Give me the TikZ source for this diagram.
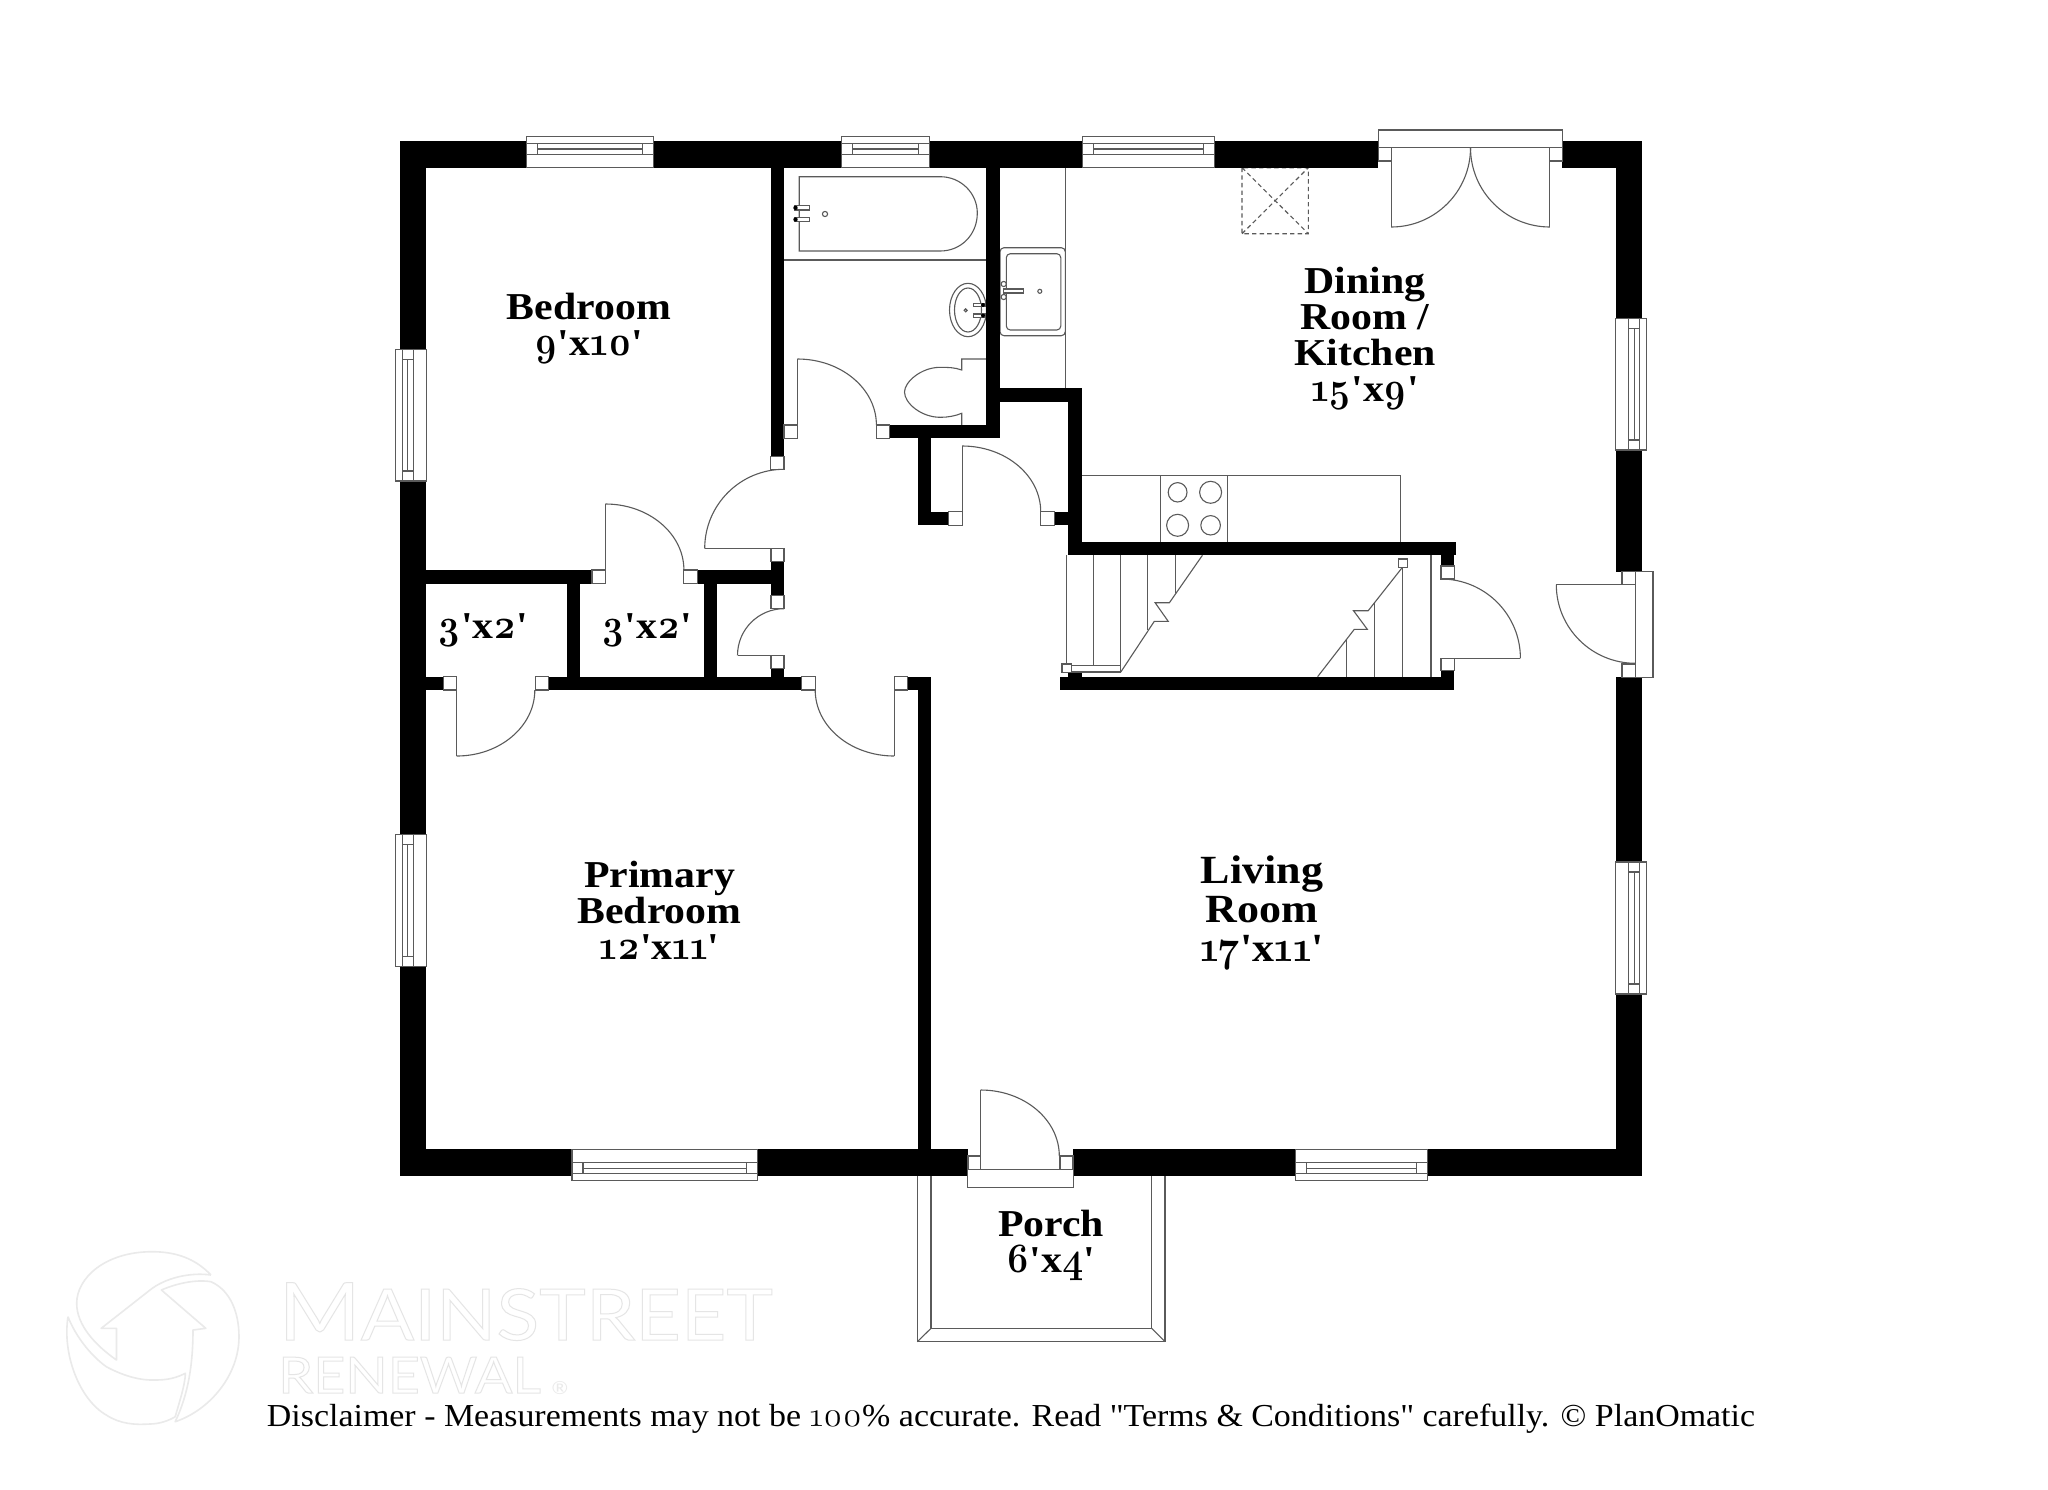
\documentclass[tikz,border=0pt]{standalone}
\usepackage{fontspec}
\newfontfamily\plan{Liberation Serif}[FakeStretch=1.1]
\newfontfamily\digs{Latin Modern Roman}[Numbers=OldStyle,FakeStretch=0.88]
\newfontfamily\digr{Latin Modern Roman}[Numbers=OldStyle,FakeStretch=1.1]
\newfontfamily\discl{Liberation Serif}[FakeStretch=1.06]
\newfontfamily\logofont{Lato}[FakeStretch=1.11]
\newcommand\dg[1]{{\digs\bfseries\fontsize{21}{18}\selectfont #1}}
\newcommand\dgb[1]{{\digs\bfseries\fontsize{22}{19}\selectfont #1}}
\definecolor{ln}{HTML}{5A5A5A}
\definecolor{wm}{HTML}{EAEAEA}
\tikzset{
  thinl/.style={draw=ln,line width=0.55pt},
  boxw/.style={thinl,fill=white},
  lbl/.style={align=center,inner sep=0pt,text=black},
  roomlbl/.style={lbl,font=\plan\bfseries\fontsize{19}{18}\selectfont},
  biglbl/.style={lbl,font=\plan\bfseries\fontsize{20}{19.5}\selectfont},
  wmline/.style={draw=wm,line width=0.8pt,line join=round}
}
\newcommand\wl[4]{\fill[black] (#1,#2) rectangle (#3,#4);}
\newcommand\jb[4]{\path[boxw] (#1,#2) rectangle (#3,#4);}
\newcommand\dq[4]{\pgfmathsetmacro\cxa{#1+0.552*(#3-#1)}\pgfmathsetmacro\cyb{#4+0.552*(#2-#4)}\draw[thinl] (#1,#2) .. controls (\cxa,#2) and (#3,\cyb) .. (#3,#4);}
\newcommand\winH[7]{\path[boxw] (#1,#3) rectangle (#2,#4);
  \draw[thinl] (#1,#5) -- (#2,#5) (#1,#7) -- (#2,#7);
  \pgfmathsetmacro\ia{#1+11}\pgfmathsetmacro\ib{#2-11}
  \draw[thinl] (\ia,#5) -- (\ia,#7) (\ib,#5) -- (\ib,#7) (\ia,#6) -- (\ib,#6);}
\newcommand\winV[7]{\path[boxw] (#3,#1) rectangle (#4,#2);
  \draw[thinl] (#5,#1) -- (#5,#2) (#7,#1) -- (#7,#2);
  \pgfmathsetmacro\ia{#1+10}\pgfmathsetmacro\ib{#2-10}
  \draw[thinl] (#5,\ia) -- (#7,\ia) (#5,\ib) -- (#7,\ib) (#6,\ia) -- (#6,\ib);}
\begin{document}
\begin{tikzpicture}[x=0.5pt,y=-0.5pt]
\useasboundingbox (0,0) rectangle (2048,1489);
\fill[white] (0,0) rectangle (2048,1489);

% watermark
\node[inner sep=0pt,anchor=base west,text=wm] (wmain) at (278,1340) {\logofont\special{pdf:code 1 Tr 0.5 w 0.9 0.9 0.9 RG}\fontsize{40}{40}\selectfont M\fontsize{35.5}{40}\selectfont AINSTREET\special{pdf:code 0 Tr}};
\node[inner sep=0pt,anchor=base west,text=wm] (wren) at (278,1393) {\logofont\special{pdf:code 1 Tr 0.5 w 0.9 0.9 0.9 RG}\fontsize{25}{25}\selectfont RENEWAL\special{pdf:code 0 Tr}};
\node[inner sep=0pt,text=wm] (wreg) at (560,1388) {\logofont\fontsize{9}{9}\selectfont ®};
\draw[wmline] (210.9,1275) .. controls (195,1258) and (175,1251.7) .. (152.2,1251.7) .. controls (105,1251.7) and (76.7,1278) .. (76.7,1303.3) .. controls (76.7,1325) and (95,1345) .. (116.5,1360) -- (116.5,1328.3) -- (101.2,1328.3) -- (150,1290) .. controls (165,1278) and (190,1272) .. (210.9,1275);
\draw[wmline] (161.4,1290) .. controls (175,1284) and (195,1279) .. (210.9,1281.7) .. controls (230,1290) and (239,1312) .. (239,1336.7) .. controls (239,1375) and (210,1410) .. (175.2,1421.7) .. controls (188,1395) and (193,1365) .. (193,1330) -- (205.8,1328.3) -- cycle;
\draw[wmline] (68,1316.7) .. controls (62,1355) and (80,1400) .. (106.3,1415) .. controls (120,1424) and (135,1425) .. (149.7,1424) .. controls (160,1424) and (170,1420) .. (175.2,1416.7) .. controls (180,1400) and (185,1385) .. (185.4,1373.3) .. controls (172,1380) and (162,1380) .. (152.2,1380) .. controls (135,1380) and (118,1373) .. (106.3,1366.7) .. controls (90,1355) and (75,1335) .. (68,1316.7);

% porch
\path[boxw] (917.3,1176) -- (917.3,1341.7) -- (1165,1341.7) -- (1165,1176);
\draw[thinl] (931,1176) -- (931,1328.3) -- (1151.7,1328.3) -- (1151.7,1176);
\draw[thinl] (917.3,1341.7) -- (931,1328.3) (1165,1341.7) -- (1151.7,1328.3);

% kitchen counters
\draw[thinl] (1065.3,167.7) -- (1065.3,387.7);
\draw[thinl] (1081.6,475.7) -- (1400.8,475.7) -- (1400.8,541.7);
\draw[thinl] (1160.8,475.7) -- (1160.8,541.7) (1227.3,475.7) -- (1227.3,541.7);
\draw[thinl] (1177.6,492.3) ellipse[x radius=9.4,y radius=9.7];
\draw[thinl] (1210.6,492.3) ellipse[x radius=11,y radius=11];
\draw[thinl] (1177.6,525.3) ellipse[x radius=11,y radius=11];
\draw[thinl] (1210.6,525.3) ellipse[x radius=9.8,y radius=9.7];
% kitchen sink
\path[boxw,rounded corners=2pt] (1000,247.7) rectangle (1065.3,335.7);
\draw[thinl,rounded corners=2pt] (1006.3,253.7) rectangle (1060.8,330);
\draw[thinl] (1003.7,284) circle[radius=2.6] (1003.7,297) circle[radius=2.6];
\path[boxw] (1003.7,289) rectangle (1023.8,293);
\draw[thinl] (1039.8,291.3) circle[radius=2];
% skylight
\draw[thinl,dash pattern=on 2.2pt off 1.6pt] (1242,167.7) rectangle (1308.3,233.7) (1242,233.7) -- (1308.3,167.7) (1242,167.7) -- (1308.3,233.7);
% bath
\draw[thinl] (784,260) -- (986.3,260);
\draw[thinl] (799.2,176.7) -- (940.3,176.7) .. controls (960.7,176.7) and (977.3,193) .. (977.3,213) .. controls (977.3,235) and (960.7,251) .. (940.3,251) -- (799.2,251) -- cycle;
\path[boxw] (795,205.7) rectangle (809.5,210);
\path[boxw] (795,217.3) rectangle (809.5,221.7);
\fill[black] (795.5,207.8) circle[radius=2.2] (795.5,219.5) circle[radius=2.2];
\draw[thinl] (825,214) circle[radius=2.6];
\draw[thinl] (968,310) ellipse[x radius=18.5,y radius=26.7];
\draw[thinl] (968,310) ellipse[x radius=13.5,y radius=22];
\draw[thinl] (965.7,310.3) circle[radius=1.5];
\path[boxw] (973.8,303.3) rectangle (985.4,306.7);
\path[boxw] (973.8,314) rectangle (985.4,317.3);
\fill[black] (983,305) circle[radius=2] (983,315.6) circle[radius=2];
% toilet
\draw[thinl] (986.3,359) -- (961.7,359) -- (961.7,370) .. controls (955,367.5) and (948,367.3) .. (940.3,367.3) .. controls (921,367.3) and (904.5,382) .. (904.5,392) .. controls (904.5,403) and (921,417.3) .. (940.3,417.3) .. controls (948,417.3) and (955,416) .. (961.7,413.3) -- (961.7,425);

% walls
\wl{399.6}{140.7}{1378.1}{167.7}
\wl{1562.4}{140.7}{1642.2}{167.7}
\wl{399.6}{140.7}{426.4}{1176}
\wl{1615.8}{140.7}{1642.2}{571.7}
\wl{1615.8}{677.3}{1642.2}{1176}
\wl{399.6}{1149.3}{968}{1176}
\wl{1073}{1149.3}{1642.2}{1176}
\wl{917.6}{676.7}{931.3}{1149.3}
\wl{770.6}{167.7}{784}{456.7}
\wl{986.3}{167.7}{1000}{438.3}
\wl{889.8}{425}{1000}{438.3}
\wl{917.5}{438.3}{930.9}{525.3}
\wl{917.5}{511.7}{948.8}{525.3}
\wl{1054.1}{511.7}{1068.1}{525.3}
\wl{1000}{387.7}{1081.5}{401.7}
\wl{1068.1}{387.7}{1081.5}{555.3}
\wl{1068.1}{541.7}{1456.3}{555.3}
\wl{1441}{555.3}{1454.3}{566}
\wl{1060.4}{676.7}{1454.3}{690.3}
\wl{1068.2}{671.7}{1081.6}{676.7}
\wl{1441}{670.7}{1454.3}{676.7}
\wl{426.4}{570}{592}{583.7}
\wl{697.3}{570}{771}{583.7}
\wl{771}{561.7}{784}{595.7}
\wl{771}{668.3}{784}{676.7}
\wl{566.5}{583.7}{579.9}{676.7}
\wl{703.6}{583.7}{717}{676.7}
\wl{426.4}{676.7}{443.3}{690}
\wl{548.7}{676.7}{801.8}{690}
\wl{907.6}{676.7}{931.3}{690}

% windows
\winH{526.4}{653.2}{136.3}{167.7}{143.3}{149}{154.7}
\winH{841.6}{929.1}{136.3}{167.7}{143.3}{149}{154.7}
\winH{1082.4}{1214.2}{136.3}{167.7}{143.3}{149}{154.7}
\winH{572}{757.5}{1149.3}{1180.3}{1162.7}{1168.3}{1173.3}
\winH{1295.5}{1427.5}{1149.3}{1180.3}{1162.7}{1168.3}{1173.3}
\winV{349.3}{481}{395.6}{426.4}{402.3}{407.7}{413.5}
\winV{834.6}{966.4}{395.6}{426.4}{402.3}{407.7}{413.5}
\winV{318.3}{450}{1615.8}{1646.1}{1628.8}{1634.2}{1639.6}
\winV{862}{994}{1615.8}{1646.1}{1628.8}{1634.2}{1639.6}

% jambs and doors
\jb{784}{425}{797.4}{438.3}\jb{876.4}{425}{889.8}{438.3}
\draw[thinl] (797.4,425) -- (797.4,359); \dq{797.4}{359}{876.4}{425}
\jb{948.8}{511.7}{962.1}{525.3}\jb{1040.7}{511.7}{1054.1}{525.3}
\draw[thinl] (962.1,511.7) -- (962.1,446); \dq{962.1}{446}{1040.7}{511.7}
\jb{770.6}{456.7}{784}{469.3}\jb{771}{548.5}{784}{561.7}
\draw[thinl] (771,548.5) -- (704.7,548.5); \dq{784}{469.3}{704.7}{548.5}
\jb{592}{570}{605.4}{583.7}\jb{683.9}{570}{697.3}{583.7}
\draw[thinl] (605.4,570) -- (605.4,504); \dq{605.4}{504}{683.9}{570}
\jb{771}{595.7}{784}{608.7}\jb{771}{655.3}{784}{668.3}
\draw[thinl] (771,655.3) -- (737.5,655.3); \dq{784}{608.7}{737.5}{655.3}
\jb{443.3}{676.7}{456.7}{690}\jb{535.3}{676.7}{548.7}{690}
\draw[thinl] (456.7,690) -- (456.7,756); \dq{456.7}{756}{534.8}{690}
\jb{801.8}{676.7}{815.2}{690}\jb{894.2}{676.7}{907.6}{690}
\draw[thinl] (894.2,690) -- (894.2,756); \dq{894.2}{756}{815.2}{690}
% entry door bottom
\jb{968}{1156}{980.7}{1169.3}\jb{1060}{1156}{1073}{1169.3}
\path[boxw] (967.3,1169.3) rectangle (1073.3,1187.3);
\draw[thinl] (980.7,1169.3) -- (980.7,1090); \dq{980.7}{1090}{1059.3}{1156}
\draw[thinl] (1059.3,1156) -- (1059.3,1169.3);
% french door
\path[boxw] (1378.1,130) rectangle (1562.9,147.7);
\jb{1378.1}{147.7}{1391.2}{161}\jb{1549.9}{147.7}{1562.9}{161}
\draw[thinl] (1391.2,147.7) -- (1391.2,227) (1549.9,147.7) -- (1549.9,227);
\dq{1391.2}{227}{1470.5}{147.7}\dq{1549.9}{227}{1470.5}{147.7}
% stair door
\jb{1441}{566}{1454.3}{579}\jb{1441}{658.3}{1454.3}{670.7}
\draw[thinl] (1454.3,658.3) -- (1520.4,658.3); \dq{1441}{579}{1520.4}{658.3}
% side door
\path[boxw] (1635.5,571.7) rectangle (1653,677.3);
\jb{1622}{571.7}{1635.5}{584.7}\jb{1622}{664}{1635.5}{677.3}
\draw[thinl] (1622,584.7) -- (1556.3,584.7); \dq{1635.5}{663.3}{1556.3}{584.7}

% stairs
\draw[thinl] (1066.5,555.3) -- (1066.5,665) (1093.9,555.3) -- (1093.9,665.7) (1120.8,555.3) -- (1120.8,665.7) (1147.8,555.3) -- (1147.8,630) (1175.1,555.3) -- (1175.1,593.3);
\draw[thinl] (1202.4,555.3) -- (1169.4,602.7) -- (1155.1,602.7) -- (1168.2,621.3) -- (1154.3,621.3) -- (1120.8,672);
\path[boxw] (1071.4,665.7) rectangle (1120.8,672);
\jb{1062}{664}{1071.4}{672.7}
\draw[thinl] (1317.6,676.7) -- (1354.3,629.3) -- (1367.3,629.3) -- (1353.5,610.7) -- (1368.2,610.7) -- (1402.9,566.7);
\draw[thinl] (1346.1,640) -- (1346.1,676.7) (1374.7,602.7) -- (1374.7,676.7) (1402.9,567.7) -- (1402.9,676.7) (1431,555.3) -- (1431,676.7);
\jb{1398.4}{559}{1407.8}{567.7}

% labels
\node[roomlbl] (bedroom) at (589,329) {Bedroom\\\dg{9}'x\dg{10}'};
\node[roomlbl] (dining) at (1365,339) {Dining\\Room /\\Kitchen\\\dg{15}'x\dg{9}'};
\node[roomlbl] (primary) at (659.5,910) {Primary\\Bedroom\\\dg{12}'x\dg{11}'};
\node[biglbl] (living) at (1262,913) {Living\\Room\\\dgb{17}'x\dgb{11}'};
\node[roomlbl] (porch) at (1051,1245) {Porch\\\dg{6}'x\dg{4}'};
\node[roomlbl] (closetA) at (483,630) {\dg{3}'x\dg{2}'};
\node[roomlbl] (closetB) at (646.5,630) {\dg{3}'x\dg{2}'};
\node[lbl,font=\discl\fontsize{16}{16}\selectfont] (disclaimer) at (1011,1419) {Disclaimer - Measurements may not be {\digr\fontsize{17}{16}\selectfont 100}\% accurate. Read "Terms \& Conditions" carefully. © PlanOmatic};
\end{tikzpicture}
\end{document}
